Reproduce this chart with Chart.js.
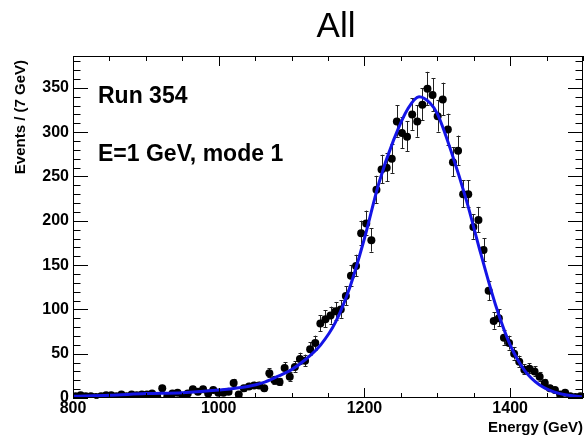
<!DOCTYPE html>
<html>
<head>
<meta charset="utf-8">
<title>All</title>
<script src="https://cdn.jsdelivr.net/npm/chart.js@4.4.1/dist/chart.umd.min.js"></script>
<style>
  html, body { margin: 0; padding: 0; background: #fff; }
  #energyChart { display: block; }
</style>
</head>
<body>
<canvas id="energyChart" width="587" height="441"></canvas>
<script>
// histogram: 100 bins of 7 GeV from 800 GeV
const binLow = 800;
const binWidth = 7;
const counts = [
    2, 3, 2, 2, 1, 2, 3, 3, 2, 4,
    2, 4, 3, 4, 4, 5, 2, 11, 2, 5,
    6, 2, 5, 10, 7, 10, 5, 9, 6, 6,
    7, 17, 4, 11, 13, 14, 14, 11, 28, 20,
    18, 34, 24, 35, 44, 42, 55, 62, 84, 89,
    93, 98, 100, 115, 138, 149, 186, 197, 178, 235,
    258, 260, 270, 312, 299, 295, 320, 312, 331, 349,
    342, 318, 337, 303, 266, 279, 230, 230, 193, 201,
    167, 121, 87, 90, 68, 62, 50, 41, 32, 33,
    30, 24, 17, 11, 9, 4, 6, 2, 1, 2
];

// fit curve
const fitEnergy = [800, 850, 900, 950, 1000, 1040, 1060, 1080, 1100, 1120, 1140, 1160, 1180, 1200, 1220,
    1240, 1260, 1275, 1290, 1300, 1320, 1340, 1360, 1380, 1400, 1420, 1440, 1460, 1480, 1500];
const fitValues = [2, 3, 5, 6, 9, 13, 17, 24, 32, 44, 60, 85, 125, 180, 243,
    291, 327, 340, 333, 321, 276, 223, 162, 105, 60, 31, 15, 7, 3, 1];

const xMajorTicks = [800, 1000, 1200, 1400];
const xMinorTicks = [850, 900, 950, 1050, 1100, 1150, 1250, 1300, 1350, 1450, 1500];
const yMajorTicks = [0, 50, 100, 150, 200, 250, 300, 350];
const yMinorStep = 10;

const FONT = '"Liberation Sans", Arial, Helvetica, sans-serif';

const points = counts.map((n, i) => ({ x: binLow + binWidth * (i + 0.5), y: n }));
const fitPoints = fitEnergy.map((e, i) => ({ x: e, y: fitValues[i] }));

// error bars + frame + ticks + text, ROOT style
const rootStyle = {
    id: 'rootStyle',
    beforeDatasetsDraw(chart) {
        const { ctx, scales: { x, y } } = chart;
        ctx.save();
        ctx.strokeStyle = '#222';
        ctx.lineWidth = 1;
        ctx.beginPath();
        points.forEach(p => {
            const up = Math.sqrt(p.y + 0.25) + 0.5;
            const lo = Math.sqrt(p.y + 0.25) - 0.5;
            const px = Math.round(x.getPixelForValue(p.x)) + 0.5;
            const yTop = y.getPixelForValue(p.y + up);
            const yBot = y.getPixelForValue(p.y - lo);
            ctx.moveTo(px, yTop);
            ctx.lineTo(px, yBot);
            ctx.moveTo(px - 2, Math.round(yTop) + 0.5);
            ctx.lineTo(px + 2, Math.round(yTop) + 0.5);
            ctx.moveTo(px - 2, Math.round(yBot) + 0.5);
            ctx.lineTo(px + 2, Math.round(yBot) + 0.5);
        });
        ctx.stroke();
        ctx.restore();
    },
    afterDraw(chart) {
        const { ctx, chartArea: a, scales: { x, y } } = chart;
        ctx.save();
        ctx.strokeStyle = '#000';
        ctx.lineWidth = 1;
        ctx.strokeRect(a.left + 0.5, a.top + 0.5, a.right - a.left - 1, a.bottom - a.top - 1);

        ctx.beginPath();
        const xTick = (v, len) => {
            const px = Math.round(x.getPixelForValue(v)) + 0.5;
            ctx.moveTo(px, a.bottom);
            ctx.lineTo(px, a.bottom - len);
            ctx.moveTo(px, a.top);
            ctx.lineTo(px, a.top + len);
        };
        const yTick = (v, len) => {
            const py = Math.round(y.getPixelForValue(v)) + 0.5;
            ctx.moveTo(a.left, py);
            ctx.lineTo(a.left + len, py);
            ctx.moveTo(a.right, py);
            ctx.lineTo(a.right - len, py);
        };
        xMajorTicks.forEach(v => xTick(v, 10));
        xMinorTicks.forEach(v => xTick(v, 5));
        for (let v = 0; v <= y.max; v += yMinorStep) {
            yTick(v, yMajorTicks.includes(v) ? 15 : 7.5);
        }
        ctx.stroke();

        ctx.fillStyle = '#000';
        ctx.font = 'bold 16px ' + FONT;
        ctx.textAlign = 'center';
        ctx.textBaseline = 'middle';
        xMajorTicks.forEach(v => ctx.fillText(String(v), x.getPixelForValue(v), 409));
        ctx.textAlign = 'right';
        yMajorTicks.forEach(v => ctx.fillText(String(v), a.left - 4, y.getPixelForValue(v)));

        ctx.font = 'bold 15px ' + FONT;
        ctx.textAlign = 'right';
        ctx.fillText('Energy (GeV)', a.right, 428);
        ctx.save();
        ctx.translate(21, a.top + 4);
        ctx.rotate(-Math.PI / 2);
        ctx.textAlign = 'right';
        ctx.fillText('Events / (7 GeV)', 0, 0);
        ctx.restore();

        ctx.font = 'bold 23px ' + FONT;
        ctx.textAlign = 'left';
        ctx.textBaseline = 'alphabetic';
        ctx.fillText('Run 354', 98, 103);
        ctx.fillText('E=1 GeV, mode 1', 98, 161);

        ctx.font = '35px ' + FONT;
        ctx.textAlign = 'center';
        ctx.fillText('All', 336, 37);
        ctx.restore();
    }
};

new Chart(document.getElementById('energyChart'), {
    type: 'line',
    data: {
        datasets: [{
            label: 'fit',
            data: fitPoints,
            borderColor: '#1414e6',
            borderWidth: 3,
            pointRadius: 0,
            cubicInterpolationMode: 'monotone',
            fill: false,
            order: 0
        }, {
            label: 'data',
            data: points,
            showLine: false,
            pointRadius: 4,
            pointBackgroundColor: '#000',
            pointBorderColor: '#000',
            pointBorderWidth: 0,
            order: 1
        }]
    },
    options: {
        responsive: false,
        animation: false,
        layout: { padding: { left: 73, right: 3, top: 56, bottom: 43 } },
        plugins: { legend: { display: false }, tooltip: { enabled: false } },
        scales: {
            x: { type: 'linear', min: 800, max: 1500, display: false },
            y: { type: 'linear', min: 0, max: 386, display: false }
        }
    },
    plugins: [rootStyle]
});
</script>
</body>
</html>
